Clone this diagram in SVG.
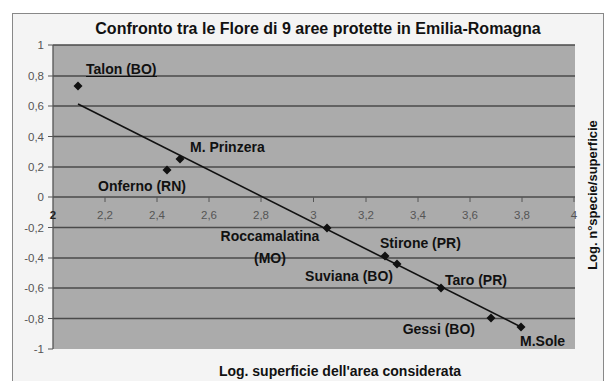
<svg xmlns="http://www.w3.org/2000/svg" width="607" height="381" viewBox="0 0 607 381">
<defs>
<style>
.lbl{font-family:"Liberation Sans",Arial,sans-serif;font-weight:bold;font-size:14px;fill:#111}
.tick{font-family:"Liberation Sans",Arial,sans-serif;font-size:11.5px;fill:#555}
.grid{stroke:#4a4a4a;stroke-width:1.3}
.tk{stroke:#555;stroke-width:1}
.pt{fill:#111}
</style>
<path id="dia" d="M0,-4.5 L4.5,0 L0,4.5 L-4.5,0Z"/>
</defs>
<rect x="0" y="0" width="607" height="381" fill="#ffffff"/>
<rect x="12.5" y="13.5" width="591" height="372" fill="#f4f4f4" stroke="#888" stroke-width="1"/>
<text class="lbl" x="318" y="34" text-anchor="middle" style="font-size:16px">Confronto tra le Flore di 9 aree protette in Emilia-Romagna</text>
<g id="plot">
<rect x="53" y="45" width="522" height="304" fill="#ababab"/>
<g class="grid">
<line x1="53" y1="45" x2="575" y2="45"/>
<line x1="53" y1="76" x2="575" y2="76"/>
<line x1="53" y1="106" x2="575" y2="106"/>
<line x1="53" y1="136.5" x2="575" y2="136.5"/>
<line x1="53" y1="167" x2="575" y2="167"/>
<line x1="53" y1="197" x2="575" y2="197"/>
<line x1="53" y1="227.5" x2="575" y2="227.5"/>
<line x1="53" y1="258" x2="575" y2="258"/>
<line x1="53" y1="288" x2="575" y2="288"/>
<line x1="53" y1="318.5" x2="575" y2="318.5"/>
</g>
<line x1="53" y1="45" x2="53" y2="349" stroke="#555" stroke-width="1.3"/>
<g class="tk">
<line x1="48" y1="45" x2="53" y2="45"/><line x1="48" y1="76" x2="53" y2="76"/><line x1="48" y1="106" x2="53" y2="106"/><line x1="48" y1="136.5" x2="53" y2="136.5"/><line x1="48" y1="167" x2="53" y2="167"/><line x1="48" y1="197" x2="53" y2="197"/><line x1="48" y1="227.5" x2="53" y2="227.5"/><line x1="48" y1="258" x2="53" y2="258"/><line x1="48" y1="288" x2="53" y2="288"/><line x1="48" y1="318.5" x2="53" y2="318.5"/><line x1="48" y1="349" x2="53" y2="349"/>
<line x1="105" y1="197" x2="105" y2="202"/><line x1="157" y1="197" x2="157" y2="202"/><line x1="209" y1="197" x2="209" y2="202"/><line x1="261" y1="197" x2="261" y2="202"/><line x1="313.5" y1="197" x2="313.5" y2="202"/><line x1="366" y1="197" x2="366" y2="202"/><line x1="418" y1="197" x2="418" y2="202"/><line x1="470" y1="197" x2="470" y2="202"/><line x1="522" y1="197" x2="522" y2="202"/><line x1="574" y1="197" x2="574" y2="202"/>
</g>
<g class="tick" text-anchor="end">
<text x="44" y="49">1</text><text x="44" y="80">0,8</text><text x="44" y="110">0,6</text><text x="44" y="141">0,4</text><text x="44" y="171">0,2</text><text x="44" y="201">0</text><text x="44" y="232">-0,2</text><text x="44" y="262">-0,4</text><text x="44" y="292">-0,6</text><text x="44" y="323">-0,8</text><text x="44" y="353">-1</text>
</g>
<g class="tick" text-anchor="middle">
<text x="53" y="219" style="font-weight:bold;fill:#222">2</text><text x="105" y="219">2,2</text><text x="157" y="219">2,4</text><text x="209" y="219">2,6</text><text x="261" y="219">2,8</text><text x="313.5" y="219">3</text><text x="366" y="219">3,2</text><text x="418" y="219">3,4</text><text x="470" y="219">3,6</text><text x="522" y="219">3,8</text><text x="574" y="219">4</text>
</g>
</g>
<g id="connectors">
<line x1="78" y1="104" x2="521" y2="327" stroke="#111" stroke-width="1.6"/>
</g>
<g id="talon"><use href="#dia" class="pt" x="78" y="86"/><text class="lbl" x="86" y="74">Talon (BO)</text><line x1="86" y1="76.5" x2="157" y2="76.5" stroke="#111" stroke-width="1.2"/></g>
<g id="onferno"><use href="#dia" class="pt" x="167" y="170"/><text class="lbl" x="186" y="191" text-anchor="end">Onferno (RN)</text></g>
<g id="prinzera"><use href="#dia" class="pt" x="180" y="159"/><text class="lbl" x="190" y="152">M. Prinzera</text></g>
<g id="roccamalatina"><use href="#dia" class="pt" x="327" y="228"/><text class="lbl" x="270" y="241" text-anchor="middle">Roccamalatina</text><text class="lbl" x="270" y="263" text-anchor="middle">(MO)</text></g>
<g id="stirone"><use href="#dia" class="pt" x="385" y="256"/><text class="lbl" x="380" y="248">Stirone (PR)</text></g>
<g id="suviana"><use href="#dia" class="pt" x="397" y="264"/><text class="lbl" x="393" y="281" text-anchor="end">Suviana (BO)</text></g>
<g id="taro"><use href="#dia" class="pt" x="441" y="288"/><text class="lbl" x="445" y="285">Taro (PR)</text></g>
<g id="gessi"><use href="#dia" class="pt" x="491" y="318"/><text class="lbl" x="475" y="334" text-anchor="end">Gessi (BO)</text></g>
<g id="msole"><use href="#dia" class="pt" x="521" y="327"/><text class="lbl" x="520" y="346">M.Sole</text></g>
<text class="lbl" x="340" y="376" text-anchor="middle">Log. superficie dell'area considerata</text>
<text class="lbl" transform="translate(597,195) rotate(-90)" text-anchor="middle" style="font-size:13px">Log. n°specie/superficie</text>
</svg>
